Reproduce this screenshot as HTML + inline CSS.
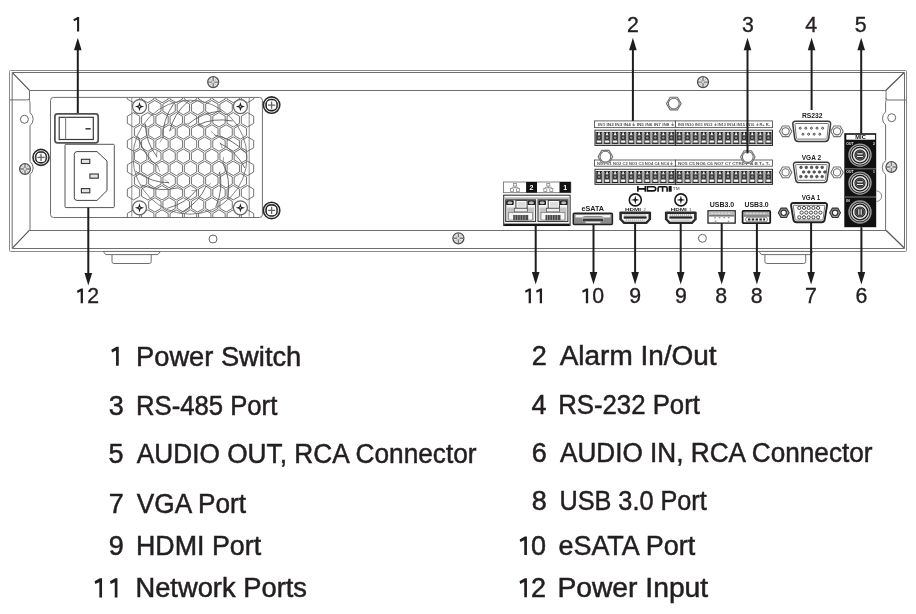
<!DOCTYPE html><html><head><meta charset="utf-8"><style>html,body{margin:0;padding:0;background:#fff;width:916px;height:614px;overflow:hidden}svg{display:block;will-change:transform}text{font-family:"Liberation Sans",sans-serif}</style></head><body>
<svg width="916" height="614" viewBox="0 0 916 614">
<g fill="none" stroke="#6e6e6e" stroke-width="1">
<rect x="9.5" y="70.5" width="897" height="181" rx="1" stroke="#8a8a8a"/>
<path d="M12.2,72.5 H904.5 V248.5 H12.2 Z"/>
<path d="M29.5,90.5 H886"/>
<path d="M29.5,230.5 H886"/>
<path d="M12.6,72.8 L29.5,90.3 M904,72.8 L886,90.3 M12.6,247.8 L29.5,230.2 M904,247.8 L886,230.2" stroke="#555" stroke-width="1.2"/>
<path d="M9.6,99.9 H27.5 Q29.5,99.9 29.5,98 M886,98 Q886,100 888,100 H906.6"/>
<path d="M29.5,90.3 V100.5 Q30,102.5 30,104 V112.6 A8.5,8.5 0 0 1 30,125.8 V161.4 A8.5,8.5 0 0 1 30,174.6 V230.2"/>
<path d="M886,90.3 V100.5 Q885.6,102.5 885.6,104 V111.8 A8.5,8.5 0 0 0 885.6,125 V160.6 A9,9 0 0 0 885.6,174.6 V230.2"/>
</g>
<path d="M876.5,191 A5.2,5.2 0 0 1 876.5,201.4" fill="none" stroke="#777" stroke-width="0.9"/>
<path d="M103.2,251.4 H160.4 L158,254.6 H105.6Z M112,254.6 V261.5 Q112,263.5 114,263.5 H149.2 Q151.2,263.5 151.2,261.5 V254.6" fill="#fff" stroke="#6e6e6e" stroke-width="1"/>
<path d="M758.9,251.4 H812.9 L810.5,254.6 H761.3Z M764.9,254.6 V261.5 Q764.9,263.5 766.9,263.5 H803.7 Q805.7,263.5 805.7,261.5 V254.6" fill="#fff" stroke="#6e6e6e" stroke-width="1"/>
<circle cx="24.4" cy="119.3" r="4" fill="#fff" stroke="#666" stroke-width="1"/>
<circle cx="891.7" cy="117.7" r="4" fill="#fff" stroke="#666" stroke-width="1"/>
<circle cx="25" cy="169" r="5.4" fill="#e6e6e6" stroke="#505050" stroke-width="1.3"/>
<path d="M20.1,169 H29.9 M25,164.1 V173.9" stroke="#7a7a7a" stroke-width="1.4"/>
<path d="M21.92,165.92 L28.08,172.08 M28.08,165.92 L21.92,172.08" stroke="#aaa" stroke-width="0.7"/>
<circle cx="25" cy="169" r="1.2" fill="#ddd"/>
<circle cx="891.4" cy="167" r="5.4" fill="#e6e6e6" stroke="#505050" stroke-width="1.3"/>
<path d="M886.5,167 H896.3 M891.4,162.1 V171.9" stroke="#7a7a7a" stroke-width="1.4"/>
<path d="M888.3199999999999,163.92 L894.48,170.08 M894.48,163.92 L888.3199999999999,170.08" stroke="#aaa" stroke-width="0.7"/>
<circle cx="891.4" cy="167" r="1.2" fill="#ddd"/>
<circle cx="213.2" cy="82.1" r="5.5" fill="#e6e6e6" stroke="#505050" stroke-width="1.3"/>
<path d="M208.2,82.1 H218.2 M213.2,77.1 V87.1" stroke="#7a7a7a" stroke-width="1.4"/>
<path d="M210.04999999999998,78.94999999999999 L216.35,85.25 M216.35,78.94999999999999 L210.04999999999998,85.25" stroke="#aaa" stroke-width="0.7"/>
<circle cx="213.2" cy="82.1" r="1.2" fill="#ddd"/>
<circle cx="703" cy="82.1" r="5.5" fill="#e6e6e6" stroke="#505050" stroke-width="1.3"/>
<path d="M698,82.1 H708 M703,77.1 V87.1" stroke="#7a7a7a" stroke-width="1.4"/>
<path d="M699.85,78.94999999999999 L706.15,85.25 M706.15,78.94999999999999 L699.85,85.25" stroke="#aaa" stroke-width="0.7"/>
<circle cx="703" cy="82.1" r="1.2" fill="#ddd"/>
<circle cx="458.4" cy="238.3" r="5.5" fill="#e6e6e6" stroke="#505050" stroke-width="1.3"/>
<path d="M453.4,238.3 H463.4 M458.4,233.3 V243.3" stroke="#7a7a7a" stroke-width="1.4"/>
<path d="M455.25,235.15 L461.54999999999995,241.45000000000002 M461.54999999999995,235.15 L455.25,241.45000000000002" stroke="#aaa" stroke-width="0.7"/>
<circle cx="458.4" cy="238.3" r="1.2" fill="#ddd"/>
<circle cx="213" cy="239" r="4" fill="#fff" stroke="#666" stroke-width="1"/>
<circle cx="702.4" cy="238.3" r="4" fill="#fff" stroke="#666" stroke-width="1"/>
<circle cx="41" cy="157.4" r="8.0" fill="#fff" stroke="#2a2a2a" stroke-width="1.6"/>
<circle cx="41" cy="157.4" r="6.000000000000001" fill="#fff" stroke="#777" stroke-width="0.9"/>
<rect x="35.800000000000004" y="152.2" width="10.400000000000002" height="10.400000000000002" rx="4.200000000000001" fill="#fff" stroke="#222" stroke-width="1.3"/>
<path d="M37.4,157.4 H44.6 M41,153.8 V161.0" stroke="#666" stroke-width="1.3"/>
<rect x="50.5" y="97.4" width="211.9" height="120.1" rx="3" fill="#fff" stroke="#6e6e6e" stroke-width="1"/>
<rect x="54.9" y="113.9" width="43.3" height="28.9" rx="2.6" fill="#fff" stroke="#505050" stroke-width="1.7"/>
<rect x="59.2" y="117.3" width="34.1" height="22.2" fill="#fff" stroke="#3a3a3a" stroke-width="1.2"/>
<line x1="65.6" y1="117.6" x2="65.6" y2="139.2" stroke="#888" stroke-width="1.2"/>
<line x1="85.5" y1="128.8" x2="90.7" y2="128.8" stroke="#333" stroke-width="1.5"/>
<rect x="65" y="144.3" width="49.3" height="63.3" rx="1" fill="#fff" stroke="#555" stroke-width="1"/>
<path d="M77,151.6 H97 L107,161 V190.5 L97,200.4 H77 Q74.3,200.4 74.3,197.5 V154.5 Q74.3,151.6 77,151.6Z" fill="#fff" stroke="#444" stroke-width="1.0"/>
<rect x="81.4" y="159.3" width="8.4" height="4.2" fill="#e4e4e4" stroke="#333" stroke-width="1.1"/>
<rect x="89.9" y="174" width="8.4" height="4.2" fill="#e4e4e4" stroke="#333" stroke-width="1.1"/>
<rect x="81.4" y="188.6" width="8.4" height="4.2" fill="#e4e4e4" stroke="#333" stroke-width="1.1"/>
<defs><clipPath id="fanclip"><rect x="120" y="97.9" width="140" height="119"/></clipPath></defs>
<g clip-path="url(#fanclip)">
<path d="M131.8,98 V216.5 M249.2,98 V216.5" stroke="#777" stroke-width="0.8" fill="none"/>
<path d="M133.50,102.70 L127.33,99.10 L127.33,91.90 L133.50,88.30 L139.68,91.90 L139.68,99.10ZM147.75,102.70 L141.57,99.10 L141.57,91.90 L147.75,88.30 L153.93,91.90 L153.93,99.10ZM162.00,102.70 L155.82,99.10 L155.82,91.90 L162.00,88.30 L168.18,91.90 L168.18,99.10ZM176.25,102.70 L170.07,99.10 L170.07,91.90 L176.25,88.30 L182.43,91.90 L182.43,99.10ZM190.50,102.70 L184.32,99.10 L184.32,91.90 L190.50,88.30 L196.68,91.90 L196.68,99.10ZM204.75,102.70 L198.57,99.10 L198.57,91.90 L204.75,88.30 L210.93,91.90 L210.93,99.10ZM219.00,102.70 L212.82,99.10 L212.82,91.90 L219.00,88.30 L225.18,91.90 L225.18,99.10ZM233.25,102.70 L227.07,99.10 L227.07,91.90 L233.25,88.30 L239.43,91.90 L239.43,99.10ZM247.50,102.70 L241.32,99.10 L241.32,91.90 L247.50,88.30 L253.68,91.90 L253.68,99.10ZM154.85,114.85 L148.67,111.25 L148.67,104.05 L154.85,100.45 L161.03,104.05 L161.03,111.25ZM169.10,114.85 L162.92,111.25 L162.92,104.05 L169.10,100.45 L175.28,104.05 L175.28,111.25ZM183.35,114.85 L177.17,111.25 L177.17,104.05 L183.35,100.45 L189.53,104.05 L189.53,111.25ZM197.60,114.85 L191.42,111.25 L191.42,104.05 L197.60,100.45 L203.78,104.05 L203.78,111.25ZM211.85,114.85 L205.67,111.25 L205.67,104.05 L211.85,100.45 L218.03,104.05 L218.03,111.25ZM226.10,114.85 L219.92,111.25 L219.92,104.05 L226.10,100.45 L232.28,104.05 L232.28,111.25ZM133.50,127.00 L127.33,123.40 L127.33,116.20 L133.50,112.60 L139.68,116.20 L139.68,123.40ZM147.75,127.00 L141.57,123.40 L141.57,116.20 L147.75,112.60 L153.93,116.20 L153.93,123.40ZM162.00,127.00 L155.82,123.40 L155.82,116.20 L162.00,112.60 L168.18,116.20 L168.18,123.40ZM176.25,127.00 L170.07,123.40 L170.07,116.20 L176.25,112.60 L182.43,116.20 L182.43,123.40ZM190.50,127.00 L184.32,123.40 L184.32,116.20 L190.50,112.60 L196.68,116.20 L196.68,123.40ZM204.75,127.00 L198.57,123.40 L198.57,116.20 L204.75,112.60 L210.93,116.20 L210.93,123.40ZM219.00,127.00 L212.82,123.40 L212.82,116.20 L219.00,112.60 L225.18,116.20 L225.18,123.40ZM233.25,127.00 L227.07,123.40 L227.07,116.20 L233.25,112.60 L239.43,116.20 L239.43,123.40ZM247.50,127.00 L241.32,123.40 L241.32,116.20 L247.50,112.60 L253.68,116.20 L253.68,123.40ZM140.60,139.15 L134.42,135.55 L134.42,128.35 L140.60,124.75 L146.78,128.35 L146.78,135.55ZM154.85,139.15 L148.67,135.55 L148.67,128.35 L154.85,124.75 L161.03,128.35 L161.03,135.55ZM169.10,139.15 L162.92,135.55 L162.92,128.35 L169.10,124.75 L175.28,128.35 L175.28,135.55ZM183.35,139.15 L177.17,135.55 L177.17,128.35 L183.35,124.75 L189.53,128.35 L189.53,135.55ZM197.60,139.15 L191.42,135.55 L191.42,128.35 L197.60,124.75 L203.78,128.35 L203.78,135.55ZM211.85,139.15 L205.67,135.55 L205.67,128.35 L211.85,124.75 L218.03,128.35 L218.03,135.55ZM226.10,139.15 L219.92,135.55 L219.92,128.35 L226.10,124.75 L232.28,128.35 L232.28,135.55ZM240.35,139.15 L234.17,135.55 L234.17,128.35 L240.35,124.75 L246.53,128.35 L246.53,135.55ZM133.50,151.30 L127.33,147.70 L127.33,140.50 L133.50,136.90 L139.68,140.50 L139.68,147.70ZM147.75,151.30 L141.57,147.70 L141.57,140.50 L147.75,136.90 L153.93,140.50 L153.93,147.70ZM162.00,151.30 L155.82,147.70 L155.82,140.50 L162.00,136.90 L168.18,140.50 L168.18,147.70ZM176.25,151.30 L170.07,147.70 L170.07,140.50 L176.25,136.90 L182.43,140.50 L182.43,147.70ZM190.50,151.30 L184.32,147.70 L184.32,140.50 L190.50,136.90 L196.68,140.50 L196.68,147.70ZM204.75,151.30 L198.57,147.70 L198.57,140.50 L204.75,136.90 L210.93,140.50 L210.93,147.70ZM219.00,151.30 L212.82,147.70 L212.82,140.50 L219.00,136.90 L225.18,140.50 L225.18,147.70ZM233.25,151.30 L227.07,147.70 L227.07,140.50 L233.25,136.90 L239.43,140.50 L239.43,147.70ZM247.50,151.30 L241.32,147.70 L241.32,140.50 L247.50,136.90 L253.68,140.50 L253.68,147.70ZM140.60,163.45 L134.42,159.85 L134.42,152.65 L140.60,149.05 L146.78,152.65 L146.78,159.85ZM154.85,163.45 L148.67,159.85 L148.67,152.65 L154.85,149.05 L161.03,152.65 L161.03,159.85ZM169.10,163.45 L162.92,159.85 L162.92,152.65 L169.10,149.05 L175.28,152.65 L175.28,159.85ZM183.35,163.45 L177.17,159.85 L177.17,152.65 L183.35,149.05 L189.53,152.65 L189.53,159.85ZM197.60,163.45 L191.42,159.85 L191.42,152.65 L197.60,149.05 L203.78,152.65 L203.78,159.85ZM211.85,163.45 L205.67,159.85 L205.67,152.65 L211.85,149.05 L218.03,152.65 L218.03,159.85ZM226.10,163.45 L219.92,159.85 L219.92,152.65 L226.10,149.05 L232.28,152.65 L232.28,159.85ZM240.35,163.45 L234.17,159.85 L234.17,152.65 L240.35,149.05 L246.53,152.65 L246.53,159.85ZM133.50,175.60 L127.33,172.00 L127.33,164.80 L133.50,161.20 L139.68,164.80 L139.68,172.00ZM147.75,175.60 L141.57,172.00 L141.57,164.80 L147.75,161.20 L153.93,164.80 L153.93,172.00ZM162.00,175.60 L155.82,172.00 L155.82,164.80 L162.00,161.20 L168.18,164.80 L168.18,172.00ZM176.25,175.60 L170.07,172.00 L170.07,164.80 L176.25,161.20 L182.43,164.80 L182.43,172.00ZM190.50,175.60 L184.32,172.00 L184.32,164.80 L190.50,161.20 L196.68,164.80 L196.68,172.00ZM204.75,175.60 L198.57,172.00 L198.57,164.80 L204.75,161.20 L210.93,164.80 L210.93,172.00ZM219.00,175.60 L212.82,172.00 L212.82,164.80 L219.00,161.20 L225.18,164.80 L225.18,172.00ZM233.25,175.60 L227.07,172.00 L227.07,164.80 L233.25,161.20 L239.43,164.80 L239.43,172.00ZM247.50,175.60 L241.32,172.00 L241.32,164.80 L247.50,161.20 L253.68,164.80 L253.68,172.00ZM140.60,187.75 L134.42,184.15 L134.42,176.95 L140.60,173.35 L146.78,176.95 L146.78,184.15ZM154.85,187.75 L148.67,184.15 L148.67,176.95 L154.85,173.35 L161.03,176.95 L161.03,184.15ZM169.10,187.75 L162.92,184.15 L162.92,176.95 L169.10,173.35 L175.28,176.95 L175.28,184.15ZM183.35,187.75 L177.17,184.15 L177.17,176.95 L183.35,173.35 L189.53,176.95 L189.53,184.15ZM197.60,187.75 L191.42,184.15 L191.42,176.95 L197.60,173.35 L203.78,176.95 L203.78,184.15ZM211.85,187.75 L205.67,184.15 L205.67,176.95 L211.85,173.35 L218.03,176.95 L218.03,184.15ZM226.10,187.75 L219.92,184.15 L219.92,176.95 L226.10,173.35 L232.28,176.95 L232.28,184.15ZM240.35,187.75 L234.17,184.15 L234.17,176.95 L240.35,173.35 L246.53,176.95 L246.53,184.15ZM133.50,199.90 L127.33,196.30 L127.33,189.10 L133.50,185.50 L139.68,189.10 L139.68,196.30ZM147.75,199.90 L141.57,196.30 L141.57,189.10 L147.75,185.50 L153.93,189.10 L153.93,196.30ZM162.00,199.90 L155.82,196.30 L155.82,189.10 L162.00,185.50 L168.18,189.10 L168.18,196.30ZM176.25,199.90 L170.07,196.30 L170.07,189.10 L176.25,185.50 L182.43,189.10 L182.43,196.30ZM190.50,199.90 L184.32,196.30 L184.32,189.10 L190.50,185.50 L196.68,189.10 L196.68,196.30ZM204.75,199.90 L198.57,196.30 L198.57,189.10 L204.75,185.50 L210.93,189.10 L210.93,196.30ZM219.00,199.90 L212.82,196.30 L212.82,189.10 L219.00,185.50 L225.18,189.10 L225.18,196.30ZM233.25,199.90 L227.07,196.30 L227.07,189.10 L233.25,185.50 L239.43,189.10 L239.43,196.30ZM247.50,199.90 L241.32,196.30 L241.32,189.10 L247.50,185.50 L253.68,189.10 L253.68,196.30ZM154.85,212.05 L148.67,208.45 L148.67,201.25 L154.85,197.65 L161.03,201.25 L161.03,208.45ZM169.10,212.05 L162.92,208.45 L162.92,201.25 L169.10,197.65 L175.28,201.25 L175.28,208.45ZM183.35,212.05 L177.17,208.45 L177.17,201.25 L183.35,197.65 L189.53,201.25 L189.53,208.45ZM197.60,212.05 L191.42,208.45 L191.42,201.25 L197.60,197.65 L203.78,201.25 L203.78,208.45ZM211.85,212.05 L205.67,208.45 L205.67,201.25 L211.85,197.65 L218.03,201.25 L218.03,208.45ZM226.10,212.05 L219.92,208.45 L219.92,201.25 L226.10,197.65 L232.28,201.25 L232.28,208.45ZM133.50,224.20 L127.33,220.60 L127.33,213.40 L133.50,209.80 L139.68,213.40 L139.68,220.60ZM147.75,224.20 L141.57,220.60 L141.57,213.40 L147.75,209.80 L153.93,213.40 L153.93,220.60ZM162.00,224.20 L155.82,220.60 L155.82,213.40 L162.00,209.80 L168.18,213.40 L168.18,220.60ZM176.25,224.20 L170.07,220.60 L170.07,213.40 L176.25,209.80 L182.43,213.40 L182.43,220.60ZM190.50,224.20 L184.32,220.60 L184.32,213.40 L190.50,209.80 L196.68,213.40 L196.68,220.60ZM204.75,224.20 L198.57,220.60 L198.57,213.40 L204.75,209.80 L210.93,213.40 L210.93,220.60ZM219.00,224.20 L212.82,220.60 L212.82,213.40 L219.00,209.80 L225.18,213.40 L225.18,220.60ZM233.25,224.20 L227.07,220.60 L227.07,213.40 L233.25,209.80 L239.43,213.40 L239.43,220.60ZM247.50,224.20 L241.32,220.60 L241.32,213.40 L247.50,209.80 L253.68,213.40 L253.68,220.60Z" fill="none" stroke="#5a5a5a" stroke-width="0.85"/>
<circle cx="190" cy="157.2" r="57" fill="none" stroke="#666" stroke-width="0.8"/>
<circle cx="190" cy="157.2" r="33.5" fill="none" stroke="#777" stroke-width="0.7" stroke-dasharray="6,9"/>
<path d="M188.0,124.3 Q201.2,112.6 221.7,111.0 M197.8,125.1 Q213.1,117.4 232.7,121.0 M214.5,135.1 Q231.9,138.1 245.9,153.2 M219.9,143.3 Q235.5,150.5 244.9,168.0 M222.6,162.6 Q231.0,178.1 227.9,198.4 M219.5,171.9 Q223.6,188.6 215.8,206.9 M206.1,186.0 Q199.3,202.3 181.4,212.5 M196.9,189.5 Q186.4,203.1 167.2,208.4 M177.5,187.8 Q160.5,192.5 141.4,185.0 M169.1,182.7 Q151.9,183.0 135.8,171.3 M158.3,166.5 Q144.0,156.2 137.9,136.5 M157.0,156.7 Q146.1,143.5 145.2,123.6 M163.0,138.2 Q162.1,120.6 173.7,103.6 M169.8,131.1 Q173.3,114.3 188.3,101.2" fill="none" stroke="#555" stroke-width="0.85"/>
</g>
<circle cx="139.5" cy="106.6" r="7.0" fill="#fff" stroke="#6a6a6a" stroke-width="1.3"/>
<path d="M139.5,102.0 L140.6,105.5 L144.1,106.6 L140.6,107.69999999999999 L139.5,111.19999999999999 L138.4,107.69999999999999 L134.9,106.6 L138.4,105.5Z" fill="#1e1e1e"/>
<circle cx="139.5" cy="106.6" r="0.8" fill="#bbb"/>
<circle cx="240.4" cy="106.6" r="7.0" fill="#fff" stroke="#6a6a6a" stroke-width="1.3"/>
<path d="M240.4,102.0 L241.5,105.5 L245.0,106.6 L241.5,107.69999999999999 L240.4,111.19999999999999 L239.3,107.69999999999999 L235.8,106.6 L239.3,105.5Z" fill="#1e1e1e"/>
<circle cx="240.4" cy="106.6" r="0.8" fill="#bbb"/>
<circle cx="139.5" cy="207.8" r="7.0" fill="#fff" stroke="#6a6a6a" stroke-width="1.3"/>
<path d="M139.5,203.20000000000002 L140.6,206.70000000000002 L144.1,207.8 L140.6,208.9 L139.5,212.4 L138.4,208.9 L134.9,207.8 L138.4,206.70000000000002Z" fill="#1e1e1e"/>
<circle cx="139.5" cy="207.8" r="0.8" fill="#bbb"/>
<circle cx="240.4" cy="207.8" r="7.0" fill="#fff" stroke="#6a6a6a" stroke-width="1.3"/>
<path d="M240.4,203.20000000000002 L241.5,206.70000000000002 L245.0,207.8 L241.5,208.9 L240.4,212.4 L239.3,208.9 L235.8,207.8 L239.3,206.70000000000002Z" fill="#1e1e1e"/>
<circle cx="240.4" cy="207.8" r="0.8" fill="#bbb"/>
<circle cx="271.6" cy="105.1" r="8.2" fill="#fff" stroke="#2a2a2a" stroke-width="1.6"/>
<circle cx="271.6" cy="105.1" r="6.2" fill="#fff" stroke="#777" stroke-width="0.9"/>
<rect x="266.20000000000005" y="99.69999999999999" width="10.8" height="10.8" rx="4.4" fill="#fff" stroke="#222" stroke-width="1.3"/>
<path d="M268.0,105.1 H275.20000000000005 M271.6,101.5 V108.69999999999999" stroke="#666" stroke-width="1.3"/>
<circle cx="271.6" cy="210.4" r="8.2" fill="#fff" stroke="#2a2a2a" stroke-width="1.6"/>
<circle cx="271.6" cy="210.4" r="6.2" fill="#fff" stroke="#777" stroke-width="0.9"/>
<rect x="266.20000000000005" y="205.0" width="10.8" height="10.8" rx="4.4" fill="#fff" stroke="#222" stroke-width="1.3"/>
<path d="M268.0,210.4 H275.20000000000005 M271.6,206.8 V214.0" stroke="#666" stroke-width="1.3"/>
<rect x="594.5" y="120.9" width="80.89999999999998" height="6.699999999999989" fill="#fff" stroke="#555" stroke-width="0.9"/>
<rect x="675.4" y="120.9" width="97.10000000000002" height="6.699999999999989" fill="#fff" stroke="#555" stroke-width="0.9"/>
<rect x="595.0" y="130.2" width="80.39999999999999" height="15.200000000000017" fill="#ababab" stroke="#262626" stroke-width="1"/>
<rect x="595.5" y="130.7" width="79.39999999999999" height="1.3" fill="#ececec"/>
<rect x="595.5" y="143.8" width="79.39999999999999" height="1.1" fill="#c8c8c8"/>
<path d="M595.92,132.0 H602.12 L601.22,134.0 H596.8199999999999Z" fill="#222"/>
<rect x="598.22" y="132.5" width="1.6" height="2.8" fill="#f0f0f0"/>
<rect x="596.12" y="134.0" width="5.8" height="8.8" fill="#484848"/>
<rect x="598.02" y="134.0" width="2" height="1.4" fill="#eee"/>
<circle cx="599.02" cy="137.79999999999998" r="1.8" fill="#8a8a8a" stroke="#222" stroke-width="0.8"/>
<rect x="596.8199999999999" y="140.5" width="4.4" height="2.3" rx="1" fill="#f6f6f6"/>
<rect x="595.8199999999999" y="142.79999999999998" width="6.4" height="1.0" fill="#151515"/>
<path d="M603.9599999999999,132.0 H610.16 L609.26,134.0 H604.8599999999999Z" fill="#222"/>
<rect x="606.26" y="132.5" width="1.6" height="2.8" fill="#f0f0f0"/>
<rect x="604.16" y="134.0" width="5.8" height="8.8" fill="#484848"/>
<rect x="606.06" y="134.0" width="2" height="1.4" fill="#eee"/>
<circle cx="607.06" cy="137.79999999999998" r="1.8" fill="#8a8a8a" stroke="#222" stroke-width="0.8"/>
<rect x="604.8599999999999" y="140.5" width="4.4" height="2.3" rx="1" fill="#f6f6f6"/>
<rect x="603.8599999999999" y="142.79999999999998" width="6.4" height="1.0" fill="#151515"/>
<path d="M612.0,132.0 H618.2 L617.3000000000001,134.0 H612.9Z" fill="#222"/>
<rect x="614.3000000000001" y="132.5" width="1.6" height="2.8" fill="#f0f0f0"/>
<rect x="612.2" y="134.0" width="5.8" height="8.8" fill="#484848"/>
<rect x="614.1" y="134.0" width="2" height="1.4" fill="#eee"/>
<circle cx="615.1" cy="137.79999999999998" r="1.8" fill="#8a8a8a" stroke="#222" stroke-width="0.8"/>
<rect x="612.9" y="140.5" width="4.4" height="2.3" rx="1" fill="#f6f6f6"/>
<rect x="611.9" y="142.79999999999998" width="6.4" height="1.0" fill="#151515"/>
<path d="M620.04,132.0 H626.24 L625.34,134.0 H620.9399999999999Z" fill="#222"/>
<rect x="622.34" y="132.5" width="1.6" height="2.8" fill="#f0f0f0"/>
<rect x="620.24" y="134.0" width="5.8" height="8.8" fill="#484848"/>
<rect x="622.14" y="134.0" width="2" height="1.4" fill="#eee"/>
<circle cx="623.14" cy="137.79999999999998" r="1.8" fill="#8a8a8a" stroke="#222" stroke-width="0.8"/>
<rect x="620.9399999999999" y="140.5" width="4.4" height="2.3" rx="1" fill="#f6f6f6"/>
<rect x="619.9399999999999" y="142.79999999999998" width="6.4" height="1.0" fill="#151515"/>
<path d="M628.0799999999999,132.0 H634.28 L633.38,134.0 H628.9799999999999Z" fill="#222"/>
<rect x="630.38" y="132.5" width="1.6" height="2.8" fill="#f0f0f0"/>
<rect x="628.28" y="134.0" width="5.8" height="8.8" fill="#484848"/>
<rect x="630.18" y="134.0" width="2" height="1.4" fill="#eee"/>
<circle cx="631.18" cy="137.79999999999998" r="1.8" fill="#8a8a8a" stroke="#222" stroke-width="0.8"/>
<rect x="628.9799999999999" y="140.5" width="4.4" height="2.3" rx="1" fill="#f6f6f6"/>
<rect x="627.9799999999999" y="142.79999999999998" width="6.4" height="1.0" fill="#151515"/>
<path d="M636.12,132.0 H642.32 L641.4200000000001,134.0 H637.02Z" fill="#222"/>
<rect x="638.4200000000001" y="132.5" width="1.6" height="2.8" fill="#f0f0f0"/>
<rect x="636.32" y="134.0" width="5.8" height="8.8" fill="#484848"/>
<rect x="638.22" y="134.0" width="2" height="1.4" fill="#eee"/>
<circle cx="639.22" cy="137.79999999999998" r="1.8" fill="#8a8a8a" stroke="#222" stroke-width="0.8"/>
<rect x="637.02" y="140.5" width="4.4" height="2.3" rx="1" fill="#f6f6f6"/>
<rect x="636.02" y="142.79999999999998" width="6.4" height="1.0" fill="#151515"/>
<path d="M644.16,132.0 H650.36 L649.46,134.0 H645.06Z" fill="#222"/>
<rect x="646.46" y="132.5" width="1.6" height="2.8" fill="#f0f0f0"/>
<rect x="644.36" y="134.0" width="5.8" height="8.8" fill="#484848"/>
<rect x="646.26" y="134.0" width="2" height="1.4" fill="#eee"/>
<circle cx="647.26" cy="137.79999999999998" r="1.8" fill="#8a8a8a" stroke="#222" stroke-width="0.8"/>
<rect x="645.06" y="140.5" width="4.4" height="2.3" rx="1" fill="#f6f6f6"/>
<rect x="644.06" y="142.79999999999998" width="6.4" height="1.0" fill="#151515"/>
<path d="M652.1999999999999,132.0 H658.4 L657.5,134.0 H653.0999999999999Z" fill="#222"/>
<rect x="654.5" y="132.5" width="1.6" height="2.8" fill="#f0f0f0"/>
<rect x="652.4" y="134.0" width="5.8" height="8.8" fill="#484848"/>
<rect x="654.3" y="134.0" width="2" height="1.4" fill="#eee"/>
<circle cx="655.3" cy="137.79999999999998" r="1.8" fill="#8a8a8a" stroke="#222" stroke-width="0.8"/>
<rect x="653.0999999999999" y="140.5" width="4.4" height="2.3" rx="1" fill="#f6f6f6"/>
<rect x="652.0999999999999" y="142.79999999999998" width="6.4" height="1.0" fill="#151515"/>
<path d="M660.2399999999999,132.0 H666.4399999999999 L665.54,134.0 H661.1399999999999Z" fill="#222"/>
<rect x="662.54" y="132.5" width="1.6" height="2.8" fill="#f0f0f0"/>
<rect x="660.4399999999999" y="134.0" width="5.8" height="8.8" fill="#484848"/>
<rect x="662.3399999999999" y="134.0" width="2" height="1.4" fill="#eee"/>
<circle cx="663.3399999999999" cy="137.79999999999998" r="1.8" fill="#8a8a8a" stroke="#222" stroke-width="0.8"/>
<rect x="661.1399999999999" y="140.5" width="4.4" height="2.3" rx="1" fill="#f6f6f6"/>
<rect x="660.1399999999999" y="142.79999999999998" width="6.4" height="1.0" fill="#151515"/>
<path d="M668.28,132.0 H674.48 L673.58,134.0 H669.18Z" fill="#222"/>
<rect x="670.58" y="132.5" width="1.6" height="2.8" fill="#f0f0f0"/>
<rect x="668.48" y="134.0" width="5.8" height="8.8" fill="#484848"/>
<rect x="670.38" y="134.0" width="2" height="1.4" fill="#eee"/>
<circle cx="671.38" cy="137.79999999999998" r="1.8" fill="#8a8a8a" stroke="#222" stroke-width="0.8"/>
<rect x="669.18" y="140.5" width="4.4" height="2.3" rx="1" fill="#f6f6f6"/>
<rect x="668.18" y="142.79999999999998" width="6.4" height="1.0" fill="#151515"/>
<rect x="675.4" y="130.2" width="97.08" height="15.200000000000017" fill="#ababab" stroke="#262626" stroke-width="1"/>
<rect x="675.9" y="130.7" width="96.08" height="1.3" fill="#ececec"/>
<rect x="675.9" y="143.8" width="96.08" height="1.1" fill="#c8c8c8"/>
<path d="M676.3449999999999,132.0 H682.545 L681.645,134.0 H677.2449999999999Z" fill="#222"/>
<rect x="678.645" y="132.5" width="1.6" height="2.8" fill="#f0f0f0"/>
<rect x="676.545" y="134.0" width="5.8" height="8.8" fill="#484848"/>
<rect x="678.4449999999999" y="134.0" width="2" height="1.4" fill="#eee"/>
<circle cx="679.4449999999999" cy="137.79999999999998" r="1.8" fill="#8a8a8a" stroke="#222" stroke-width="0.8"/>
<rect x="677.2449999999999" y="140.5" width="4.4" height="2.3" rx="1" fill="#f6f6f6"/>
<rect x="676.2449999999999" y="142.79999999999998" width="6.4" height="1.0" fill="#151515"/>
<path d="M684.435,132.0 H690.635 L689.735,134.0 H685.3349999999999Z" fill="#222"/>
<rect x="686.735" y="132.5" width="1.6" height="2.8" fill="#f0f0f0"/>
<rect x="684.635" y="134.0" width="5.8" height="8.8" fill="#484848"/>
<rect x="686.535" y="134.0" width="2" height="1.4" fill="#eee"/>
<circle cx="687.535" cy="137.79999999999998" r="1.8" fill="#8a8a8a" stroke="#222" stroke-width="0.8"/>
<rect x="685.3349999999999" y="140.5" width="4.4" height="2.3" rx="1" fill="#f6f6f6"/>
<rect x="684.3349999999999" y="142.79999999999998" width="6.4" height="1.0" fill="#151515"/>
<path d="M692.5249999999999,132.0 H698.7249999999999 L697.8249999999999,134.0 H693.4249999999998Z" fill="#222"/>
<rect x="694.8249999999999" y="132.5" width="1.6" height="2.8" fill="#f0f0f0"/>
<rect x="692.7249999999999" y="134.0" width="5.8" height="8.8" fill="#484848"/>
<rect x="694.6249999999999" y="134.0" width="2" height="1.4" fill="#eee"/>
<circle cx="695.6249999999999" cy="137.79999999999998" r="1.8" fill="#8a8a8a" stroke="#222" stroke-width="0.8"/>
<rect x="693.4249999999998" y="140.5" width="4.4" height="2.3" rx="1" fill="#f6f6f6"/>
<rect x="692.4249999999998" y="142.79999999999998" width="6.4" height="1.0" fill="#151515"/>
<path d="M700.6149999999999,132.0 H706.8149999999999 L705.915,134.0 H701.5149999999999Z" fill="#222"/>
<rect x="702.915" y="132.5" width="1.6" height="2.8" fill="#f0f0f0"/>
<rect x="700.8149999999999" y="134.0" width="5.8" height="8.8" fill="#484848"/>
<rect x="702.7149999999999" y="134.0" width="2" height="1.4" fill="#eee"/>
<circle cx="703.7149999999999" cy="137.79999999999998" r="1.8" fill="#8a8a8a" stroke="#222" stroke-width="0.8"/>
<rect x="701.5149999999999" y="140.5" width="4.4" height="2.3" rx="1" fill="#f6f6f6"/>
<rect x="700.5149999999999" y="142.79999999999998" width="6.4" height="1.0" fill="#151515"/>
<path d="M708.7049999999999,132.0 H714.905 L714.005,134.0 H709.6049999999999Z" fill="#222"/>
<rect x="711.005" y="132.5" width="1.6" height="2.8" fill="#f0f0f0"/>
<rect x="708.905" y="134.0" width="5.8" height="8.8" fill="#484848"/>
<rect x="710.805" y="134.0" width="2" height="1.4" fill="#eee"/>
<circle cx="711.805" cy="137.79999999999998" r="1.8" fill="#8a8a8a" stroke="#222" stroke-width="0.8"/>
<rect x="709.6049999999999" y="140.5" width="4.4" height="2.3" rx="1" fill="#f6f6f6"/>
<rect x="708.6049999999999" y="142.79999999999998" width="6.4" height="1.0" fill="#151515"/>
<path d="M716.795,132.0 H722.995 L722.095,134.0 H717.6949999999999Z" fill="#222"/>
<rect x="719.095" y="132.5" width="1.6" height="2.8" fill="#f0f0f0"/>
<rect x="716.995" y="134.0" width="5.8" height="8.8" fill="#484848"/>
<rect x="718.895" y="134.0" width="2" height="1.4" fill="#eee"/>
<circle cx="719.895" cy="137.79999999999998" r="1.8" fill="#8a8a8a" stroke="#222" stroke-width="0.8"/>
<rect x="717.6949999999999" y="140.5" width="4.4" height="2.3" rx="1" fill="#f6f6f6"/>
<rect x="716.6949999999999" y="142.79999999999998" width="6.4" height="1.0" fill="#151515"/>
<path d="M724.8849999999999,132.0 H731.0849999999999 L730.185,134.0 H725.7849999999999Z" fill="#222"/>
<rect x="727.185" y="132.5" width="1.6" height="2.8" fill="#f0f0f0"/>
<rect x="725.0849999999999" y="134.0" width="5.8" height="8.8" fill="#484848"/>
<rect x="726.9849999999999" y="134.0" width="2" height="1.4" fill="#eee"/>
<circle cx="727.9849999999999" cy="137.79999999999998" r="1.8" fill="#8a8a8a" stroke="#222" stroke-width="0.8"/>
<rect x="725.7849999999999" y="140.5" width="4.4" height="2.3" rx="1" fill="#f6f6f6"/>
<rect x="724.7849999999999" y="142.79999999999998" width="6.4" height="1.0" fill="#151515"/>
<path d="M732.9749999999999,132.0 H739.175 L738.275,134.0 H733.8749999999999Z" fill="#222"/>
<rect x="735.275" y="132.5" width="1.6" height="2.8" fill="#f0f0f0"/>
<rect x="733.175" y="134.0" width="5.8" height="8.8" fill="#484848"/>
<rect x="735.0749999999999" y="134.0" width="2" height="1.4" fill="#eee"/>
<circle cx="736.0749999999999" cy="137.79999999999998" r="1.8" fill="#8a8a8a" stroke="#222" stroke-width="0.8"/>
<rect x="733.8749999999999" y="140.5" width="4.4" height="2.3" rx="1" fill="#f6f6f6"/>
<rect x="732.8749999999999" y="142.79999999999998" width="6.4" height="1.0" fill="#151515"/>
<path d="M741.0649999999999,132.0 H747.265 L746.365,134.0 H741.9649999999999Z" fill="#222"/>
<rect x="743.365" y="132.5" width="1.6" height="2.8" fill="#f0f0f0"/>
<rect x="741.265" y="134.0" width="5.8" height="8.8" fill="#484848"/>
<rect x="743.165" y="134.0" width="2" height="1.4" fill="#eee"/>
<circle cx="744.165" cy="137.79999999999998" r="1.8" fill="#8a8a8a" stroke="#222" stroke-width="0.8"/>
<rect x="741.9649999999999" y="140.5" width="4.4" height="2.3" rx="1" fill="#f6f6f6"/>
<rect x="740.9649999999999" y="142.79999999999998" width="6.4" height="1.0" fill="#151515"/>
<path d="M749.155,132.0 H755.355 L754.455,134.0 H750.055Z" fill="#222"/>
<rect x="751.455" y="132.5" width="1.6" height="2.8" fill="#f0f0f0"/>
<rect x="749.355" y="134.0" width="5.8" height="8.8" fill="#484848"/>
<rect x="751.255" y="134.0" width="2" height="1.4" fill="#eee"/>
<circle cx="752.255" cy="137.79999999999998" r="1.8" fill="#8a8a8a" stroke="#222" stroke-width="0.8"/>
<rect x="750.055" y="140.5" width="4.4" height="2.3" rx="1" fill="#f6f6f6"/>
<rect x="749.055" y="142.79999999999998" width="6.4" height="1.0" fill="#151515"/>
<path d="M757.2449999999999,132.0 H763.4449999999999 L762.545,134.0 H758.1449999999999Z" fill="#222"/>
<rect x="759.545" y="132.5" width="1.6" height="2.8" fill="#f0f0f0"/>
<rect x="757.4449999999999" y="134.0" width="5.8" height="8.8" fill="#484848"/>
<rect x="759.3449999999999" y="134.0" width="2" height="1.4" fill="#eee"/>
<circle cx="760.3449999999999" cy="137.79999999999998" r="1.8" fill="#8a8a8a" stroke="#222" stroke-width="0.8"/>
<rect x="758.1449999999999" y="140.5" width="4.4" height="2.3" rx="1" fill="#f6f6f6"/>
<rect x="757.1449999999999" y="142.79999999999998" width="6.4" height="1.0" fill="#151515"/>
<path d="M765.3349999999999,132.0 H771.535 L770.635,134.0 H766.2349999999999Z" fill="#222"/>
<rect x="767.635" y="132.5" width="1.6" height="2.8" fill="#f0f0f0"/>
<rect x="765.535" y="134.0" width="5.8" height="8.8" fill="#484848"/>
<rect x="767.435" y="134.0" width="2" height="1.4" fill="#eee"/>
<circle cx="768.435" cy="137.79999999999998" r="1.8" fill="#8a8a8a" stroke="#222" stroke-width="0.8"/>
<rect x="766.2349999999999" y="140.5" width="4.4" height="2.3" rx="1" fill="#f6f6f6"/>
<rect x="765.2349999999999" y="142.79999999999998" width="6.4" height="1.0" fill="#151515"/>
<rect x="594.5" y="160" width="80.89999999999998" height="6.199999999999989" fill="#fff" stroke="#555" stroke-width="0.9"/>
<rect x="675.4" y="160" width="97.10000000000002" height="6.199999999999989" fill="#fff" stroke="#555" stroke-width="0.9"/>
<rect x="595.0" y="169.3" width="80.39999999999999" height="15.0" fill="#ababab" stroke="#262626" stroke-width="1"/>
<rect x="595.5" y="169.8" width="79.39999999999999" height="1.3" fill="#ececec"/>
<rect x="595.5" y="182.70000000000002" width="79.39999999999999" height="1.1" fill="#c8c8c8"/>
<path d="M595.92,171.10000000000002 H602.12 L601.22,173.10000000000002 H596.8199999999999Z" fill="#222"/>
<rect x="598.22" y="171.60000000000002" width="1.6" height="2.8" fill="#f0f0f0"/>
<rect x="596.12" y="173.10000000000002" width="5.8" height="8.8" fill="#484848"/>
<rect x="598.02" y="173.10000000000002" width="2" height="1.4" fill="#eee"/>
<circle cx="599.02" cy="176.9" r="1.8" fill="#8a8a8a" stroke="#222" stroke-width="0.8"/>
<rect x="596.8199999999999" y="179.60000000000002" width="4.4" height="2.3" rx="1" fill="#f6f6f6"/>
<rect x="595.8199999999999" y="181.9" width="6.4" height="1.0" fill="#151515"/>
<path d="M603.9599999999999,171.10000000000002 H610.16 L609.26,173.10000000000002 H604.8599999999999Z" fill="#222"/>
<rect x="606.26" y="171.60000000000002" width="1.6" height="2.8" fill="#f0f0f0"/>
<rect x="604.16" y="173.10000000000002" width="5.8" height="8.8" fill="#484848"/>
<rect x="606.06" y="173.10000000000002" width="2" height="1.4" fill="#eee"/>
<circle cx="607.06" cy="176.9" r="1.8" fill="#8a8a8a" stroke="#222" stroke-width="0.8"/>
<rect x="604.8599999999999" y="179.60000000000002" width="4.4" height="2.3" rx="1" fill="#f6f6f6"/>
<rect x="603.8599999999999" y="181.9" width="6.4" height="1.0" fill="#151515"/>
<path d="M612.0,171.10000000000002 H618.2 L617.3000000000001,173.10000000000002 H612.9Z" fill="#222"/>
<rect x="614.3000000000001" y="171.60000000000002" width="1.6" height="2.8" fill="#f0f0f0"/>
<rect x="612.2" y="173.10000000000002" width="5.8" height="8.8" fill="#484848"/>
<rect x="614.1" y="173.10000000000002" width="2" height="1.4" fill="#eee"/>
<circle cx="615.1" cy="176.9" r="1.8" fill="#8a8a8a" stroke="#222" stroke-width="0.8"/>
<rect x="612.9" y="179.60000000000002" width="4.4" height="2.3" rx="1" fill="#f6f6f6"/>
<rect x="611.9" y="181.9" width="6.4" height="1.0" fill="#151515"/>
<path d="M620.04,171.10000000000002 H626.24 L625.34,173.10000000000002 H620.9399999999999Z" fill="#222"/>
<rect x="622.34" y="171.60000000000002" width="1.6" height="2.8" fill="#f0f0f0"/>
<rect x="620.24" y="173.10000000000002" width="5.8" height="8.8" fill="#484848"/>
<rect x="622.14" y="173.10000000000002" width="2" height="1.4" fill="#eee"/>
<circle cx="623.14" cy="176.9" r="1.8" fill="#8a8a8a" stroke="#222" stroke-width="0.8"/>
<rect x="620.9399999999999" y="179.60000000000002" width="4.4" height="2.3" rx="1" fill="#f6f6f6"/>
<rect x="619.9399999999999" y="181.9" width="6.4" height="1.0" fill="#151515"/>
<path d="M628.0799999999999,171.10000000000002 H634.28 L633.38,173.10000000000002 H628.9799999999999Z" fill="#222"/>
<rect x="630.38" y="171.60000000000002" width="1.6" height="2.8" fill="#f0f0f0"/>
<rect x="628.28" y="173.10000000000002" width="5.8" height="8.8" fill="#484848"/>
<rect x="630.18" y="173.10000000000002" width="2" height="1.4" fill="#eee"/>
<circle cx="631.18" cy="176.9" r="1.8" fill="#8a8a8a" stroke="#222" stroke-width="0.8"/>
<rect x="628.9799999999999" y="179.60000000000002" width="4.4" height="2.3" rx="1" fill="#f6f6f6"/>
<rect x="627.9799999999999" y="181.9" width="6.4" height="1.0" fill="#151515"/>
<path d="M636.12,171.10000000000002 H642.32 L641.4200000000001,173.10000000000002 H637.02Z" fill="#222"/>
<rect x="638.4200000000001" y="171.60000000000002" width="1.6" height="2.8" fill="#f0f0f0"/>
<rect x="636.32" y="173.10000000000002" width="5.8" height="8.8" fill="#484848"/>
<rect x="638.22" y="173.10000000000002" width="2" height="1.4" fill="#eee"/>
<circle cx="639.22" cy="176.9" r="1.8" fill="#8a8a8a" stroke="#222" stroke-width="0.8"/>
<rect x="637.02" y="179.60000000000002" width="4.4" height="2.3" rx="1" fill="#f6f6f6"/>
<rect x="636.02" y="181.9" width="6.4" height="1.0" fill="#151515"/>
<path d="M644.16,171.10000000000002 H650.36 L649.46,173.10000000000002 H645.06Z" fill="#222"/>
<rect x="646.46" y="171.60000000000002" width="1.6" height="2.8" fill="#f0f0f0"/>
<rect x="644.36" y="173.10000000000002" width="5.8" height="8.8" fill="#484848"/>
<rect x="646.26" y="173.10000000000002" width="2" height="1.4" fill="#eee"/>
<circle cx="647.26" cy="176.9" r="1.8" fill="#8a8a8a" stroke="#222" stroke-width="0.8"/>
<rect x="645.06" y="179.60000000000002" width="4.4" height="2.3" rx="1" fill="#f6f6f6"/>
<rect x="644.06" y="181.9" width="6.4" height="1.0" fill="#151515"/>
<path d="M652.1999999999999,171.10000000000002 H658.4 L657.5,173.10000000000002 H653.0999999999999Z" fill="#222"/>
<rect x="654.5" y="171.60000000000002" width="1.6" height="2.8" fill="#f0f0f0"/>
<rect x="652.4" y="173.10000000000002" width="5.8" height="8.8" fill="#484848"/>
<rect x="654.3" y="173.10000000000002" width="2" height="1.4" fill="#eee"/>
<circle cx="655.3" cy="176.9" r="1.8" fill="#8a8a8a" stroke="#222" stroke-width="0.8"/>
<rect x="653.0999999999999" y="179.60000000000002" width="4.4" height="2.3" rx="1" fill="#f6f6f6"/>
<rect x="652.0999999999999" y="181.9" width="6.4" height="1.0" fill="#151515"/>
<path d="M660.2399999999999,171.10000000000002 H666.4399999999999 L665.54,173.10000000000002 H661.1399999999999Z" fill="#222"/>
<rect x="662.54" y="171.60000000000002" width="1.6" height="2.8" fill="#f0f0f0"/>
<rect x="660.4399999999999" y="173.10000000000002" width="5.8" height="8.8" fill="#484848"/>
<rect x="662.3399999999999" y="173.10000000000002" width="2" height="1.4" fill="#eee"/>
<circle cx="663.3399999999999" cy="176.9" r="1.8" fill="#8a8a8a" stroke="#222" stroke-width="0.8"/>
<rect x="661.1399999999999" y="179.60000000000002" width="4.4" height="2.3" rx="1" fill="#f6f6f6"/>
<rect x="660.1399999999999" y="181.9" width="6.4" height="1.0" fill="#151515"/>
<path d="M668.28,171.10000000000002 H674.48 L673.58,173.10000000000002 H669.18Z" fill="#222"/>
<rect x="670.58" y="171.60000000000002" width="1.6" height="2.8" fill="#f0f0f0"/>
<rect x="668.48" y="173.10000000000002" width="5.8" height="8.8" fill="#484848"/>
<rect x="670.38" y="173.10000000000002" width="2" height="1.4" fill="#eee"/>
<circle cx="671.38" cy="176.9" r="1.8" fill="#8a8a8a" stroke="#222" stroke-width="0.8"/>
<rect x="669.18" y="179.60000000000002" width="4.4" height="2.3" rx="1" fill="#f6f6f6"/>
<rect x="668.18" y="181.9" width="6.4" height="1.0" fill="#151515"/>
<rect x="675.4" y="169.3" width="97.08" height="15.0" fill="#ababab" stroke="#262626" stroke-width="1"/>
<rect x="675.9" y="169.8" width="96.08" height="1.3" fill="#ececec"/>
<rect x="675.9" y="182.70000000000002" width="96.08" height="1.1" fill="#c8c8c8"/>
<path d="M676.3449999999999,171.10000000000002 H682.545 L681.645,173.10000000000002 H677.2449999999999Z" fill="#222"/>
<rect x="678.645" y="171.60000000000002" width="1.6" height="2.8" fill="#f0f0f0"/>
<rect x="676.545" y="173.10000000000002" width="5.8" height="8.8" fill="#484848"/>
<rect x="678.4449999999999" y="173.10000000000002" width="2" height="1.4" fill="#eee"/>
<circle cx="679.4449999999999" cy="176.9" r="1.8" fill="#8a8a8a" stroke="#222" stroke-width="0.8"/>
<rect x="677.2449999999999" y="179.60000000000002" width="4.4" height="2.3" rx="1" fill="#f6f6f6"/>
<rect x="676.2449999999999" y="181.9" width="6.4" height="1.0" fill="#151515"/>
<path d="M684.435,171.10000000000002 H690.635 L689.735,173.10000000000002 H685.3349999999999Z" fill="#222"/>
<rect x="686.735" y="171.60000000000002" width="1.6" height="2.8" fill="#f0f0f0"/>
<rect x="684.635" y="173.10000000000002" width="5.8" height="8.8" fill="#484848"/>
<rect x="686.535" y="173.10000000000002" width="2" height="1.4" fill="#eee"/>
<circle cx="687.535" cy="176.9" r="1.8" fill="#8a8a8a" stroke="#222" stroke-width="0.8"/>
<rect x="685.3349999999999" y="179.60000000000002" width="4.4" height="2.3" rx="1" fill="#f6f6f6"/>
<rect x="684.3349999999999" y="181.9" width="6.4" height="1.0" fill="#151515"/>
<path d="M692.5249999999999,171.10000000000002 H698.7249999999999 L697.8249999999999,173.10000000000002 H693.4249999999998Z" fill="#222"/>
<rect x="694.8249999999999" y="171.60000000000002" width="1.6" height="2.8" fill="#f0f0f0"/>
<rect x="692.7249999999999" y="173.10000000000002" width="5.8" height="8.8" fill="#484848"/>
<rect x="694.6249999999999" y="173.10000000000002" width="2" height="1.4" fill="#eee"/>
<circle cx="695.6249999999999" cy="176.9" r="1.8" fill="#8a8a8a" stroke="#222" stroke-width="0.8"/>
<rect x="693.4249999999998" y="179.60000000000002" width="4.4" height="2.3" rx="1" fill="#f6f6f6"/>
<rect x="692.4249999999998" y="181.9" width="6.4" height="1.0" fill="#151515"/>
<path d="M700.6149999999999,171.10000000000002 H706.8149999999999 L705.915,173.10000000000002 H701.5149999999999Z" fill="#222"/>
<rect x="702.915" y="171.60000000000002" width="1.6" height="2.8" fill="#f0f0f0"/>
<rect x="700.8149999999999" y="173.10000000000002" width="5.8" height="8.8" fill="#484848"/>
<rect x="702.7149999999999" y="173.10000000000002" width="2" height="1.4" fill="#eee"/>
<circle cx="703.7149999999999" cy="176.9" r="1.8" fill="#8a8a8a" stroke="#222" stroke-width="0.8"/>
<rect x="701.5149999999999" y="179.60000000000002" width="4.4" height="2.3" rx="1" fill="#f6f6f6"/>
<rect x="700.5149999999999" y="181.9" width="6.4" height="1.0" fill="#151515"/>
<path d="M708.7049999999999,171.10000000000002 H714.905 L714.005,173.10000000000002 H709.6049999999999Z" fill="#222"/>
<rect x="711.005" y="171.60000000000002" width="1.6" height="2.8" fill="#f0f0f0"/>
<rect x="708.905" y="173.10000000000002" width="5.8" height="8.8" fill="#484848"/>
<rect x="710.805" y="173.10000000000002" width="2" height="1.4" fill="#eee"/>
<circle cx="711.805" cy="176.9" r="1.8" fill="#8a8a8a" stroke="#222" stroke-width="0.8"/>
<rect x="709.6049999999999" y="179.60000000000002" width="4.4" height="2.3" rx="1" fill="#f6f6f6"/>
<rect x="708.6049999999999" y="181.9" width="6.4" height="1.0" fill="#151515"/>
<path d="M716.795,171.10000000000002 H722.995 L722.095,173.10000000000002 H717.6949999999999Z" fill="#222"/>
<rect x="719.095" y="171.60000000000002" width="1.6" height="2.8" fill="#f0f0f0"/>
<rect x="716.995" y="173.10000000000002" width="5.8" height="8.8" fill="#484848"/>
<rect x="718.895" y="173.10000000000002" width="2" height="1.4" fill="#eee"/>
<circle cx="719.895" cy="176.9" r="1.8" fill="#8a8a8a" stroke="#222" stroke-width="0.8"/>
<rect x="717.6949999999999" y="179.60000000000002" width="4.4" height="2.3" rx="1" fill="#f6f6f6"/>
<rect x="716.6949999999999" y="181.9" width="6.4" height="1.0" fill="#151515"/>
<path d="M724.8849999999999,171.10000000000002 H731.0849999999999 L730.185,173.10000000000002 H725.7849999999999Z" fill="#222"/>
<rect x="727.185" y="171.60000000000002" width="1.6" height="2.8" fill="#f0f0f0"/>
<rect x="725.0849999999999" y="173.10000000000002" width="5.8" height="8.8" fill="#484848"/>
<rect x="726.9849999999999" y="173.10000000000002" width="2" height="1.4" fill="#eee"/>
<circle cx="727.9849999999999" cy="176.9" r="1.8" fill="#8a8a8a" stroke="#222" stroke-width="0.8"/>
<rect x="725.7849999999999" y="179.60000000000002" width="4.4" height="2.3" rx="1" fill="#f6f6f6"/>
<rect x="724.7849999999999" y="181.9" width="6.4" height="1.0" fill="#151515"/>
<path d="M732.9749999999999,171.10000000000002 H739.175 L738.275,173.10000000000002 H733.8749999999999Z" fill="#222"/>
<rect x="735.275" y="171.60000000000002" width="1.6" height="2.8" fill="#f0f0f0"/>
<rect x="733.175" y="173.10000000000002" width="5.8" height="8.8" fill="#484848"/>
<rect x="735.0749999999999" y="173.10000000000002" width="2" height="1.4" fill="#eee"/>
<circle cx="736.0749999999999" cy="176.9" r="1.8" fill="#8a8a8a" stroke="#222" stroke-width="0.8"/>
<rect x="733.8749999999999" y="179.60000000000002" width="4.4" height="2.3" rx="1" fill="#f6f6f6"/>
<rect x="732.8749999999999" y="181.9" width="6.4" height="1.0" fill="#151515"/>
<path d="M741.0649999999999,171.10000000000002 H747.265 L746.365,173.10000000000002 H741.9649999999999Z" fill="#222"/>
<rect x="743.365" y="171.60000000000002" width="1.6" height="2.8" fill="#f0f0f0"/>
<rect x="741.265" y="173.10000000000002" width="5.8" height="8.8" fill="#484848"/>
<rect x="743.165" y="173.10000000000002" width="2" height="1.4" fill="#eee"/>
<circle cx="744.165" cy="176.9" r="1.8" fill="#8a8a8a" stroke="#222" stroke-width="0.8"/>
<rect x="741.9649999999999" y="179.60000000000002" width="4.4" height="2.3" rx="1" fill="#f6f6f6"/>
<rect x="740.9649999999999" y="181.9" width="6.4" height="1.0" fill="#151515"/>
<path d="M749.155,171.10000000000002 H755.355 L754.455,173.10000000000002 H750.055Z" fill="#222"/>
<rect x="751.455" y="171.60000000000002" width="1.6" height="2.8" fill="#f0f0f0"/>
<rect x="749.355" y="173.10000000000002" width="5.8" height="8.8" fill="#484848"/>
<rect x="751.255" y="173.10000000000002" width="2" height="1.4" fill="#eee"/>
<circle cx="752.255" cy="176.9" r="1.8" fill="#8a8a8a" stroke="#222" stroke-width="0.8"/>
<rect x="750.055" y="179.60000000000002" width="4.4" height="2.3" rx="1" fill="#f6f6f6"/>
<rect x="749.055" y="181.9" width="6.4" height="1.0" fill="#151515"/>
<path d="M757.2449999999999,171.10000000000002 H763.4449999999999 L762.545,173.10000000000002 H758.1449999999999Z" fill="#222"/>
<rect x="759.545" y="171.60000000000002" width="1.6" height="2.8" fill="#f0f0f0"/>
<rect x="757.4449999999999" y="173.10000000000002" width="5.8" height="8.8" fill="#484848"/>
<rect x="759.3449999999999" y="173.10000000000002" width="2" height="1.4" fill="#eee"/>
<circle cx="760.3449999999999" cy="176.9" r="1.8" fill="#8a8a8a" stroke="#222" stroke-width="0.8"/>
<rect x="758.1449999999999" y="179.60000000000002" width="4.4" height="2.3" rx="1" fill="#f6f6f6"/>
<rect x="757.1449999999999" y="181.9" width="6.4" height="1.0" fill="#151515"/>
<path d="M765.3349999999999,171.10000000000002 H771.535 L770.635,173.10000000000002 H766.2349999999999Z" fill="#222"/>
<rect x="767.635" y="171.60000000000002" width="1.6" height="2.8" fill="#f0f0f0"/>
<rect x="765.535" y="173.10000000000002" width="5.8" height="8.8" fill="#484848"/>
<rect x="767.435" y="173.10000000000002" width="2" height="1.4" fill="#eee"/>
<circle cx="768.435" cy="176.9" r="1.8" fill="#8a8a8a" stroke="#222" stroke-width="0.8"/>
<rect x="766.2349999999999" y="179.60000000000002" width="4.4" height="2.3" rx="1" fill="#f6f6f6"/>
<rect x="765.2349999999999" y="181.9" width="6.4" height="1.0" fill="#151515"/>
<text x="598" y="126.3" font-size="4.3" font-weight="bold" fill="#555" textLength="76" lengthAdjust="spacingAndGlyphs">IN1 IN2 IN3 IN4 ⏚ IN5 IN6 IN7 IN8 ⏚</text>
<text x="678" y="126.3" font-size="4.3" font-weight="bold" fill="#555" textLength="92" lengthAdjust="spacingAndGlyphs">IN9 IN10 IN11 IN12 ⏚ IN13 IN14 IN15 IN16 ⏚ R+ R-</text>
<text x="597" y="165.4" font-size="4.3" font-weight="bold" fill="#555" textLength="76" lengthAdjust="spacingAndGlyphs">NO1 C1 NO2 C2 NO3 C3 NO4 C4 NC4 ⏚</text>
<text x="678" y="165.4" font-size="4.3" font-weight="bold" fill="#555" textLength="92" lengthAdjust="spacingAndGlyphs">NO5 C5 NO6 C6 NO7 C7 CTRL P  A  B  T+ T-</text>
<path d="M681.10,103.60 L677.45,109.92 L670.15,109.92 L666.50,103.60 L670.15,97.28 L677.45,97.28Z" fill="#fff" stroke="#707070" stroke-width="1.1" stroke-linejoin="round"/>
<circle cx="673.8" cy="103.6" r="5.4" fill="#fff" stroke="#707070" stroke-width="1.1"/>
<path d="M612.70,156.70 L609.05,163.02 L601.75,163.02 L598.10,156.70 L601.75,150.38 L609.05,150.38Z" fill="#fff" stroke="#707070" stroke-width="1.1" stroke-linejoin="round"/>
<circle cx="605.4" cy="156.7" r="5.4" fill="#fff" stroke="#707070" stroke-width="1.1"/>
<path d="M755.10,157.00 L751.45,163.32 L744.15,163.32 L740.50,157.00 L744.15,150.68 L751.45,150.68Z" fill="#fff" stroke="#707070" stroke-width="1.1" stroke-linejoin="round"/>
<circle cx="747.8" cy="157" r="5.4" fill="#fff" stroke="#707070" stroke-width="1.1"/>
<g fill="none" stroke="#151515" stroke-width="1.6"><path d="M637.9,186 V191.7 M645.3,186 V191.7 M637.9,188.85 H645.3"/><path d="M647.4,186.8 H653.4 Q655.7,186.8 655.7,188.85 Q655.7,190.9 653.4,190.9 H647.4Z"/><path d="M658.1,191.7 V188.3 Q658.1,186.8 659.6,186.8 H665.6 Q667.1,186.8 667.1,188.3 V191.7 M662.6,186.8 V191.7"/></g>
<rect x="668.6" y="186" width="3.1" height="5.7" fill="#151515"/>
<text x="672.8" y="189.6" font-size="4.4" font-weight="bold" fill="#777" textLength="6.8" lengthAdjust="spacingAndGlyphs">TM</text>
<rect x="503.4" y="182" width="67.4" height="10.7" fill="#fff" stroke="#666" stroke-width="0.8"/>
<rect x="526.1" y="182" width="10.9" height="10.7" fill="#111"/>
<rect x="559.5" y="182" width="11.3" height="10.7" fill="#111"/>
<text x="531.5" y="190.4" font-size="7" font-weight="bold" fill="#fff" text-anchor="middle">2</text>
<text x="565.1" y="190.4" font-size="7" font-weight="bold" fill="#fff" text-anchor="middle">1</text>
<g fill="#fff" stroke="#888" stroke-width="0.8"><rect x="513.6" y="183.5" width="3" height="2.5"/><rect x="510.6" y="188.5" width="3" height="3"/><rect x="516.6" y="188.5" width="3" height="3"/><path d="M515.1,186 V188.5 M512.1,188.5 V187.3 H518.1 V188.5"/></g>
<g fill="#fff" stroke="#888" stroke-width="0.8"><rect x="546.8" y="183.5" width="3" height="2.5"/><rect x="543.8" y="188.5" width="3" height="3"/><rect x="549.8" y="188.5" width="3" height="3"/><path d="M548.3,186 V188.5 M545.3,188.5 V187.3 H551.3 V188.5"/></g>
<rect x="503.7" y="195.2" width="66.4" height="30.3" fill="#fff" stroke="#333" stroke-width="1.1"/>
<path d="M504.5,198.1 H569.3" stroke="#777" stroke-width="0.9"/>
<rect x="504.2" y="223.6" width="65.4" height="2.4" fill="#151515"/>
<rect x="505.7" y="199.8" width="29.9" height="21.7" fill="#f4f4f4" stroke="#3a3a3a" stroke-width="1.1"/>
<rect x="507.2" y="207.5" width="26.9" height="13" fill="#c4c4c4"/>
<rect x="506.09999999999997" y="200.2" width="7.6" height="4.9" rx="1.2" fill="#1e1e1e"/><ellipse cx="509.9" cy="202.65" rx="2.6" ry="1.5" fill="#b8b8b8"/>
<rect x="527.6" y="200.2" width="7.6" height="4.9" rx="1.2" fill="#1e1e1e"/><ellipse cx="531.4" cy="202.65" rx="2.6" ry="1.5" fill="#b8b8b8"/>
<rect x="515.9" y="200.4" width="11.2" height="7.9" fill="#fff" stroke="#3a3a3a" stroke-width="1"/>
<rect x="517.5" y="202" width="8" height="4.8" fill="#ddd"/>
<rect x="514.3" y="208.3" width="13" height="3.6" fill="#f0f0f0" stroke="#555" stroke-width="0.8"/>
<rect x="508.7" y="212.5" width="23.9" height="7.5" fill="#f6f6f6" stroke="#777" stroke-width="0.7"/>
<rect x="513.2" y="215" width="15" height="5.2" fill="#4a4a4a"/>
<path d="M515.2,215 V220.2 M517.7,215 V220.2 M520.2,215 V220.2 M522.7,215 V220.2 M525.2,215 V220.2" stroke="#aaa" stroke-width="0.7"/>
<rect x="538.0" y="199.8" width="29.9" height="21.7" fill="#f4f4f4" stroke="#3a3a3a" stroke-width="1.1"/>
<rect x="539.5" y="207.5" width="26.9" height="13" fill="#c4c4c4"/>
<rect x="538.4" y="200.2" width="7.6" height="4.9" rx="1.2" fill="#1e1e1e"/><ellipse cx="542.2" cy="202.65" rx="2.6" ry="1.5" fill="#b8b8b8"/>
<rect x="559.9" y="200.2" width="7.6" height="4.9" rx="1.2" fill="#1e1e1e"/><ellipse cx="563.6999999999999" cy="202.65" rx="2.6" ry="1.5" fill="#b8b8b8"/>
<rect x="548.2" y="200.4" width="11.2" height="7.9" fill="#fff" stroke="#3a3a3a" stroke-width="1"/>
<rect x="549.8" y="202" width="8" height="4.8" fill="#ddd"/>
<rect x="546.6" y="208.3" width="13" height="3.6" fill="#f0f0f0" stroke="#555" stroke-width="0.8"/>
<rect x="541.0" y="212.5" width="23.9" height="7.5" fill="#f6f6f6" stroke="#777" stroke-width="0.7"/>
<rect x="545.5" y="215" width="15" height="5.2" fill="#4a4a4a"/>
<path d="M547.5,215 V220.2 M550.0,215 V220.2 M552.5,215 V220.2 M555.0,215 V220.2 M557.5,215 V220.2" stroke="#aaa" stroke-width="0.7"/>
<text x="592.8" y="210.9" font-size="6.4" font-weight="bold" fill="#222" text-anchor="middle" textLength="22.6" lengthAdjust="spacingAndGlyphs">eSATA</text>
<rect x="573.3" y="213.3" width="39.1" height="11.1" rx="1" fill="#8a8a8a" stroke="#222" stroke-width="1.5"/>
<path d="M575.5,215 H610.3 V217.6 H604 Q603,216 601,216 H585 Q583,216 582,217.6 H575.5Z" fill="#f4f4f4"/>
<rect x="582.5" y="217.6" width="21" height="1.8" fill="#eee"/>
<rect x="583" y="218.5" width="20" height="2.6" fill="#3a3a3a"/>
<rect x="585.5" y="221.6" width="15" height="1.5" fill="#e8e8e8"/>
<circle cx="635.3" cy="199.9" r="6" fill="#fff" stroke="#1a1a1a" stroke-width="1.6"/>
<path d="M635.3,195.6 L636.1999999999999,199 L639.5999999999999,199.9 L636.1999999999999,200.8 L635.3,204.2 L634.4,200.8 L631.0,199.9 L634.4,199Z" fill="#1a1a1a"/>
<text x="625.0999999999999" y="211" font-size="4.4" font-weight="bold" fill="#222" textLength="16" lengthAdjust="spacingAndGlyphs">HDMI</text>
<text x="643.5" y="211" font-size="4" fill="#444">2</text>
<path d="M619.3,212.6 Q619.3,211.5 620.5,211.5 H649.8999999999999 Q651.0999999999999,211.5 651.0999999999999,212.6 V219.6 L646.8999999999999,223.9 H623.5 L619.3,219.6Z" fill="#2a2a2a"/>
<path d="M621.9,213.9 H648.4999999999999 V219 L645.6999999999999,221.8 H624.6999999999999 L621.9,219Z" fill="#f2f2f2"/>
<rect x="623.8" y="216.4" width="22.799999999999955" height="2.2" fill="#222"/>
<path d="M624.3,215 H646.0999999999999" stroke="#777" stroke-width="0.9" stroke-dasharray="1.2,0.8"/>
<path d="M625.8,220.2 H644.5999999999999" stroke="#888" stroke-width="0.8" stroke-dasharray="1.2,0.8"/>
<circle cx="680.9" cy="199.9" r="6" fill="#fff" stroke="#1a1a1a" stroke-width="1.6"/>
<path d="M680.9,195.6 L681.8,199 L685.1999999999999,199.9 L681.8,200.8 L680.9,204.2 L680.0,200.8 L676.6,199.9 L680.0,199Z" fill="#1a1a1a"/>
<text x="670.6999999999999" y="211" font-size="4.4" font-weight="bold" fill="#222" textLength="16" lengthAdjust="spacingAndGlyphs">HDMI</text>
<text x="689.1" y="211" font-size="4" fill="#444">1</text>
<path d="M664.9,212.6 Q664.9,211.5 666.1,211.5 H695.4999999999999 Q696.6999999999999,211.5 696.6999999999999,212.6 V219.6 L692.4999999999999,223.9 H669.1 L664.9,219.6Z" fill="#2a2a2a"/>
<path d="M667.5,213.9 H694.0999999999999 V219 L691.3,221.8 H670.3 L667.5,219Z" fill="#f2f2f2"/>
<rect x="669.4" y="216.4" width="22.799999999999955" height="2.2" fill="#222"/>
<path d="M669.9,215 H691.6999999999999" stroke="#777" stroke-width="0.9" stroke-dasharray="1.2,0.8"/>
<path d="M671.4,220.2 H690.1999999999999" stroke="#888" stroke-width="0.8" stroke-dasharray="1.2,0.8"/>
<text x="722" y="206.9" font-size="6.4" font-weight="bold" fill="#222" text-anchor="middle" textLength="24.6" lengthAdjust="spacingAndGlyphs">USB3.0</text>
<text x="756.6" y="206.9" font-size="6.4" font-weight="bold" fill="#222" text-anchor="middle" textLength="24.1" lengthAdjust="spacingAndGlyphs">USB3.0</text>
<rect x="708" y="210.8" width="27.2" height="12.3" fill="#fff" stroke="#222" stroke-width="1.3"/>
<rect x="709.2" y="211.9" width="24.8" height="3.6" fill="#b8b8b8"/>
<path d="M711,213.2 H732" stroke="#eee" stroke-width="0.9" stroke-dasharray="2.2,1.2"/>
<path d="M709,215.9 H734.2" stroke="#333" stroke-width="1"/>
<g fill="#999"><circle cx="715" cy="217.6" r="0.9"/><circle cx="719.6" cy="217.6" r="0.9"/><circle cx="724.2" cy="217.6" r="0.9"/><circle cx="728.8" cy="217.6" r="0.9"/><circle cx="715.5" cy="221.3" r="0.9"/><circle cx="728.5" cy="221.3" r="0.9"/></g>
<rect x="742.6" y="210.8" width="27.6" height="12.3" rx="0.8" fill="#fff" stroke="#1a1a1a" stroke-width="1.8"/>
<rect x="744" y="212" width="24.8" height="3.4" fill="#aaa"/>
<path d="M746,213.3 H767" stroke="#eee" stroke-width="0.9" stroke-dasharray="2.2,1.2"/>
<path d="M743.8,216 H769" stroke="#333" stroke-width="1"/>
<rect x="745.5" y="217.2" width="22" height="4.6" rx="2.3" fill="#f4f4f4" stroke="#555" stroke-width="0.7"/>
<path d="M748,219.5 H765" stroke="#222" stroke-width="2.2" stroke-dasharray="2.4,1.4"/>
<text x="812.3" y="117.9" font-size="6.8" font-weight="bold" fill="#222" text-anchor="middle" textLength="20.6" lengthAdjust="spacingAndGlyphs">RS232</text>
<path d="M795.5,121.2 H827.9 Q830.9,121.2 830.6,124.2 L828.6999999999999,138.4 Q828.3,141.4 825.1999999999999,141.4 H798.2 Q795.1,141.4 794.7,138.4 L792.8,124.2 Q792.5,121.2 795.5,121.2Z" fill="#fff" stroke="#3a3a3a" stroke-width="1.5"/>
<path d="M795.5999999999999,123.5 H827.8000000000001 Q828.6,123.5 828.4,124.3 L827.0,138.5 Q826.6999999999999,139.1 825.9,139.1 H797.5 Q796.7,139.1 796.4,138.5 L795.0,124.3 Q794.8,123.5 795.5999999999999,123.5Z" fill="#fff" stroke="#666" stroke-width="0.9"/>
<circle cx="800.20" cy="128.2" r="1.0" fill="#fff" stroke="#333" stroke-width="0.9"/>
<circle cx="805.80" cy="128.2" r="1.0" fill="#fff" stroke="#333" stroke-width="0.9"/>
<circle cx="811.40" cy="128.2" r="1.0" fill="#fff" stroke="#333" stroke-width="0.9"/>
<circle cx="817.00" cy="128.2" r="1.0" fill="#fff" stroke="#333" stroke-width="0.9"/>
<circle cx="822.60" cy="128.2" r="1.0" fill="#fff" stroke="#333" stroke-width="0.9"/>
<circle cx="803.00" cy="134.2" r="1.0" fill="#fff" stroke="#333" stroke-width="0.9"/>
<circle cx="808.60" cy="134.2" r="1.0" fill="#fff" stroke="#333" stroke-width="0.9"/>
<circle cx="814.20" cy="134.2" r="1.0" fill="#fff" stroke="#333" stroke-width="0.9"/>
<circle cx="819.80" cy="134.2" r="1.0" fill="#fff" stroke="#333" stroke-width="0.9"/>
<path d="M791.80,131.30 L788.70,136.67 L782.50,136.67 L779.40,131.30 L782.50,125.93 L788.70,125.93Z" fill="#fff" stroke="#707070" stroke-width="1.1" stroke-linejoin="round"/>
<circle cx="785.6" cy="131.3" r="3.6" fill="#fff" stroke="#707070" stroke-width="1.1"/>
<path d="M843.20,131.30 L840.10,136.67 L833.90,136.67 L830.80,131.30 L833.90,125.93 L840.10,125.93Z" fill="#fff" stroke="#707070" stroke-width="1.1" stroke-linejoin="round"/>
<circle cx="837" cy="131.3" r="3.6" fill="#fff" stroke="#707070" stroke-width="1.1"/>
<text x="811.4" y="159.7" font-size="6.5" font-weight="bold" fill="#222" text-anchor="middle" textLength="19.2" lengthAdjust="spacingAndGlyphs">VGA 2</text>
<path d="M796.2,162.3 H826.6 Q829.6,162.3 829.3000000000001,165.3 L827.2,179.6 Q826.8000000000001,182.6 823.7,182.6 H799.1 Q796.0,182.6 795.6,179.6 L793.5,165.3 Q793.2,162.3 796.2,162.3Z" fill="#fff" stroke="#3a3a3a" stroke-width="1.4"/>
<path d="M796.3,164.60000000000002 H826.5000000000001 Q827.3000000000001,164.60000000000002 827.1,165.40000000000003 L825.5000000000001,179.7 Q825.2,180.29999999999998 824.4000000000001,180.29999999999998 H798.4 Q797.6,180.29999999999998 797.3,179.7 L795.7,165.40000000000003 Q795.5,164.60000000000002 796.3,164.60000000000002Z" fill="#fff" stroke="#666" stroke-width="0.9"/>
<circle cx="801.00" cy="167.4" r="1.35" fill="#5a5a5a" stroke="#333" stroke-width="0.5"/>
<circle cx="806.30" cy="167.4" r="1.35" fill="#5a5a5a" stroke="#333" stroke-width="0.5"/>
<circle cx="811.60" cy="167.4" r="1.35" fill="#5a5a5a" stroke="#333" stroke-width="0.5"/>
<circle cx="816.90" cy="167.4" r="1.35" fill="#5a5a5a" stroke="#333" stroke-width="0.5"/>
<circle cx="822.20" cy="167.4" r="1.35" fill="#5a5a5a" stroke="#333" stroke-width="0.5"/>
<circle cx="803.60" cy="172.0" r="1.35" fill="#5a5a5a" stroke="#333" stroke-width="0.5"/>
<circle cx="808.90" cy="172.0" r="1.35" fill="#5a5a5a" stroke="#333" stroke-width="0.5"/>
<circle cx="814.20" cy="172.0" r="1.35" fill="#5a5a5a" stroke="#333" stroke-width="0.5"/>
<circle cx="819.50" cy="172.0" r="1.35" fill="#5a5a5a" stroke="#333" stroke-width="0.5"/>
<circle cx="824.80" cy="172.0" r="1.35" fill="#5a5a5a" stroke="#333" stroke-width="0.5"/>
<circle cx="800.80" cy="176.6" r="1.35" fill="#5a5a5a" stroke="#333" stroke-width="0.5"/>
<circle cx="806.15" cy="176.6" r="1.35" fill="#5a5a5a" stroke="#333" stroke-width="0.5"/>
<circle cx="811.50" cy="176.6" r="1.35" fill="#5a5a5a" stroke="#333" stroke-width="0.5"/>
<circle cx="816.85" cy="176.6" r="1.35" fill="#5a5a5a" stroke="#333" stroke-width="0.5"/>
<circle cx="822.20" cy="176.6" r="1.35" fill="#5a5a5a" stroke="#333" stroke-width="0.5"/>
<path d="M791.80,172.40 L788.70,177.77 L782.50,177.77 L779.40,172.40 L782.50,167.03 L788.70,167.03Z" fill="#fff" stroke="#707070" stroke-width="1.1" stroke-linejoin="round"/>
<circle cx="785.6" cy="172.4" r="3.6" fill="#fff" stroke="#707070" stroke-width="1.1"/>
<path d="M843.20,172.40 L840.10,177.77 L833.90,177.77 L830.80,172.40 L833.90,167.03 L840.10,167.03Z" fill="#fff" stroke="#707070" stroke-width="1.1" stroke-linejoin="round"/>
<circle cx="837" cy="172.4" r="3.6" fill="#fff" stroke="#707070" stroke-width="1.1"/>
<text x="810.9" y="199.8" font-size="6.5" font-weight="bold" fill="#222" text-anchor="middle" textLength="18.4" lengthAdjust="spacingAndGlyphs">VGA 1</text>
<path d="M793.4,203 H824.6999999999999 Q827.3,203 827.0,205.6 L824.6999999999999,219.70000000000002 Q824.3,222.3 821.5999999999999,222.3 H796.5 Q793.8,222.3 793.4,219.70000000000002 L791.0999999999999,205.6 Q790.8,203 793.4,203Z" fill="#fff" stroke="#222" stroke-width="1.9"/>
<path d="M793.8999999999999,205.3 H824.2 Q825.0,205.3 824.8,206.10000000000002 L823.0,219.4 Q822.6999999999999,220.0 821.9,220.0 H796.1999999999999 Q795.4,220.0 795.0999999999999,219.4 L793.3,206.10000000000002 Q793.0999999999999,205.3 793.8999999999999,205.3Z" fill="#fff" stroke="#666" stroke-width="0.9"/>
<circle cx="799.30" cy="207.9" r="1.6" fill="#fff" stroke="#333" stroke-width="0.9"/>
<circle cx="804.00" cy="207.9" r="1.6" fill="#fff" stroke="#333" stroke-width="0.9"/>
<circle cx="808.70" cy="207.9" r="1.6" fill="#fff" stroke="#333" stroke-width="0.9"/>
<circle cx="813.40" cy="207.9" r="1.6" fill="#fff" stroke="#333" stroke-width="0.9"/>
<circle cx="818.10" cy="207.9" r="1.6" fill="#fff" stroke="#333" stroke-width="0.9"/>
<circle cx="801.60" cy="212.6" r="1.6" fill="#fff" stroke="#333" stroke-width="0.9"/>
<circle cx="806.30" cy="212.6" r="1.6" fill="#fff" stroke="#333" stroke-width="0.9"/>
<circle cx="811.00" cy="212.6" r="1.6" fill="#fff" stroke="#333" stroke-width="0.9"/>
<circle cx="815.70" cy="212.6" r="1.6" fill="#fff" stroke="#333" stroke-width="0.9"/>
<circle cx="820.40" cy="212.6" r="1.6" fill="#fff" stroke="#333" stroke-width="0.9"/>
<circle cx="799.30" cy="217.3" r="1.6" fill="#fff" stroke="#333" stroke-width="0.9"/>
<circle cx="804.00" cy="217.3" r="1.6" fill="#fff" stroke="#333" stroke-width="0.9"/>
<circle cx="808.70" cy="217.3" r="1.6" fill="#fff" stroke="#333" stroke-width="0.9"/>
<circle cx="813.40" cy="217.3" r="1.6" fill="#fff" stroke="#333" stroke-width="0.9"/>
<circle cx="818.10" cy="217.3" r="1.6" fill="#fff" stroke="#333" stroke-width="0.9"/>
<path d="M789.10,212.80 L786.40,217.48 L781.00,217.48 L778.30,212.80 L781.00,208.12 L786.40,208.12Z" fill="#9a9a9a" stroke="#333" stroke-width="1.1" stroke-linejoin="round"/>
<circle cx="783.7" cy="212.8" r="2.7" fill="#fff" stroke="#333" stroke-width="1.1"/>
<path d="M840.50,212.80 L837.80,217.48 L832.40,217.48 L829.70,212.80 L832.40,208.12 L837.80,208.12Z" fill="#9a9a9a" stroke="#333" stroke-width="1.1" stroke-linejoin="round"/>
<circle cx="835.1" cy="212.8" r="2.7" fill="#fff" stroke="#333" stroke-width="1.1"/>
<rect x="844.3" y="133.2" width="31.9" height="94" fill="#111"/>
<rect x="846.3" y="134.8" width="28.8" height="4.9" fill="#fff"/>
<text x="860.6" y="139.1" font-size="5" font-weight="bold" fill="#111" text-anchor="middle" textLength="10.5" lengthAdjust="spacingAndGlyphs">MIC</text>
<line x1="845" y1="168.8" x2="876" y2="168.8" stroke="#999" stroke-width="0.8"/>
<line x1="845" y1="197" x2="876" y2="197" stroke="#999" stroke-width="0.8"/>
<circle cx="860" cy="155.1" r="11" fill="#151515" stroke="#9a9a9a" stroke-width="1.4"/>
<circle cx="860" cy="155.1" r="9" fill="none" stroke="#c8c8c8" stroke-width="1.2"/>
<circle cx="860" cy="155.1" r="6.4" fill="#222" stroke="#e6e6e6" stroke-width="1.6"/>
<circle cx="860" cy="155.1" r="4.3" fill="#333" stroke="#777" stroke-width="0.8"/>
<path d="M857.3,153.9 H862.7 M857,156.5 H863" stroke="#eee" stroke-width="1.1"/>
<text x="846.3" y="145.29999999999998" font-size="3.4" fill="#e8e8e8" font-weight="bold">OUT</text>
<text x="875" y="145.29999999999998" font-size="3.4" fill="#e8e8e8" text-anchor="end" font-weight="bold">2</text>
<circle cx="860" cy="183.1" r="11" fill="#151515" stroke="#9a9a9a" stroke-width="1.4"/>
<circle cx="860" cy="183.1" r="9" fill="none" stroke="#c8c8c8" stroke-width="1.2"/>
<circle cx="860" cy="183.1" r="6.4" fill="#222" stroke="#e6e6e6" stroke-width="1.6"/>
<circle cx="860" cy="183.1" r="4.3" fill="#333" stroke="#777" stroke-width="0.8"/>
<path d="M857.3,181.9 H862.7 M857,184.5 H863" stroke="#eee" stroke-width="1.1"/>
<text x="846.3" y="173.29999999999998" font-size="3.4" fill="#e8e8e8" font-weight="bold">OUT</text>
<text x="875" y="173.29999999999998" font-size="3.4" fill="#e8e8e8" text-anchor="end" font-weight="bold">1</text>
<circle cx="860" cy="212" r="11" fill="#151515" stroke="#9a9a9a" stroke-width="1.4"/>
<circle cx="860" cy="212" r="9" fill="none" stroke="#c8c8c8" stroke-width="1.2"/>
<circle cx="860" cy="212" r="6.4" fill="#222" stroke="#e6e6e6" stroke-width="1.6"/>
<circle cx="860" cy="212" r="4.3" fill="#333" stroke="#777" stroke-width="0.8"/>
<path d="M858.8,209.2 V214.8 M861.2,209.2 V214.8" stroke="#eee" stroke-width="1.1"/>
<text x="846.3" y="202.2" font-size="3.4" fill="#e8e8e8" font-weight="bold">IN</text>
<line x1="77.8" y1="49.2" x2="77.8" y2="113" stroke="#1e1e1e" stroke-width="2"/>
<path d="M77.8,37.7 L74.0,50.2 L81.6,50.2Z" fill="#1e1e1e"/>
<line x1="632.9" y1="49.2" x2="632.9" y2="120.9" stroke="#1e1e1e" stroke-width="2"/>
<path d="M632.9,37.7 L629.1,50.2 L636.6999999999999,50.2Z" fill="#1e1e1e"/>
<line x1="747.5" y1="49.2" x2="747.5" y2="153.4" stroke="#1e1e1e" stroke-width="2"/>
<path d="M747.5,37.7 L743.7,50.2 L751.3,50.2Z" fill="#1e1e1e"/>
<line x1="811.6" y1="49.2" x2="811.6" y2="110" stroke="#1e1e1e" stroke-width="2"/>
<path d="M811.6,37.7 L807.8000000000001,50.2 L815.4,50.2Z" fill="#1e1e1e"/>
<line x1="861.2" y1="49.2" x2="861.2" y2="133.3" stroke="#1e1e1e" stroke-width="2"/>
<path d="M861.2,37.7 L857.4000000000001,50.2 L865.0,50.2Z" fill="#1e1e1e"/>
<line x1="88.3" y1="207.6" x2="88.3" y2="274.0" stroke="#1e1e1e" stroke-width="2"/>
<path d="M88.3,285.5 L84.5,273.0 L92.1,273.0Z" fill="#1e1e1e"/>
<line x1="535.7" y1="225.5" x2="535.7" y2="273.0" stroke="#1e1e1e" stroke-width="2"/>
<path d="M535.7,284.5 L531.9000000000001,272.0 L539.5,272.0Z" fill="#1e1e1e"/>
<line x1="593.5" y1="224" x2="593.5" y2="273.0" stroke="#1e1e1e" stroke-width="2"/>
<path d="M593.5,284.5 L589.7,272.0 L597.3,272.0Z" fill="#1e1e1e"/>
<line x1="635.1" y1="223.5" x2="635.1" y2="273.0" stroke="#1e1e1e" stroke-width="2"/>
<path d="M635.1,284.5 L631.3000000000001,272.0 L638.9,272.0Z" fill="#1e1e1e"/>
<line x1="680.7" y1="223.5" x2="680.7" y2="273.0" stroke="#1e1e1e" stroke-width="2"/>
<path d="M680.7,284.5 L676.9000000000001,272.0 L684.5,272.0Z" fill="#1e1e1e"/>
<line x1="721.7" y1="223" x2="721.7" y2="273.0" stroke="#1e1e1e" stroke-width="2"/>
<path d="M721.7,284.5 L717.9000000000001,272.0 L725.5,272.0Z" fill="#1e1e1e"/>
<line x1="756.9" y1="223" x2="756.9" y2="273.0" stroke="#1e1e1e" stroke-width="2"/>
<path d="M756.9,284.5 L753.1,272.0 L760.6999999999999,272.0Z" fill="#1e1e1e"/>
<line x1="811.1" y1="222.3" x2="811.1" y2="273.0" stroke="#1e1e1e" stroke-width="2"/>
<path d="M811.1,284.5 L807.3000000000001,272.0 L814.9,272.0Z" fill="#1e1e1e"/>
<line x1="861.4" y1="227.2" x2="861.4" y2="273.0" stroke="#1e1e1e" stroke-width="2"/>
<path d="M861.4,284.5 L857.6,272.0 L865.1999999999999,272.0Z" fill="#1e1e1e"/>
<path d="M79.15,16.90 L79.15,31.60 L77.05,31.60 L77.05,19.84 L73.96,21.31 L73.38,19.25 L77.47,16.90Z" fill="#231f20"/>
<text x="632.85" y="31.6" font-size="21.3" fill="#231f20" stroke="#231f20" stroke-width="0.35" text-anchor="middle">2</text>
<text x="747.9" y="31.6" font-size="21.3" fill="#231f20" stroke="#231f20" stroke-width="0.35" text-anchor="middle">3</text>
<text x="811.25" y="31.6" font-size="21.3" fill="#231f20" stroke="#231f20" stroke-width="0.35" text-anchor="middle">4</text>
<text x="860.75" y="31.6" font-size="21.3" fill="#231f20" stroke="#231f20" stroke-width="0.35" text-anchor="middle">5</text>
<path d="M82.95,288.50 L82.95,303.30 L80.65,303.30 L80.65,291.46 L77.54,292.94 L76.95,290.87 L81.11,288.50Z" fill="#231f20"/>
<text x="93.15" y="303.3" font-size="21.3" fill="#231f20" stroke="#231f20" stroke-width="0.35" text-anchor="middle">2</text>
<path d="M530.95,288.40 L530.95,303.20 L528.65,303.20 L528.65,291.36 L525.54,292.84 L524.95,290.77 L529.11,288.40Z" fill="#231f20"/>
<path d="M542.05,288.40 L542.05,303.20 L539.75,303.20 L539.75,291.36 L536.64,292.84 L536.05,290.77 L540.21,288.40Z" fill="#231f20"/>
<path d="M588.15,288.40 L588.15,303.20 L585.85,303.20 L585.85,291.36 L582.74,292.84 L582.15,290.77 L586.31,288.40Z" fill="#231f20"/>
<text x="598.1" y="303.3" font-size="21.3" fill="#231f20" stroke="#231f20" stroke-width="0.35" text-anchor="middle">0</text>
<text x="635.1" y="303.3" font-size="21.3" fill="#231f20" stroke="#231f20" stroke-width="0.35" text-anchor="middle">9</text>
<text x="680.9" y="303.3" font-size="21.3" fill="#231f20" stroke="#231f20" stroke-width="0.35" text-anchor="middle">9</text>
<text x="721.3" y="303.3" font-size="21.3" fill="#231f20" stroke="#231f20" stroke-width="0.35" text-anchor="middle">8</text>
<text x="756.7" y="303.3" font-size="21.3" fill="#231f20" stroke="#231f20" stroke-width="0.35" text-anchor="middle">8</text>
<text x="811.0" y="303.3" font-size="21.3" fill="#231f20" stroke="#231f20" stroke-width="0.35" text-anchor="middle">7</text>
<text x="861.4" y="303.3" font-size="21.3" fill="#231f20" stroke="#231f20" stroke-width="0.35" text-anchor="middle">6</text>
<path d="M118.75,346.80 L118.75,365.80 L116.05,365.80 L116.05,350.60 L112.06,352.50 L111.30,349.84 L116.59,346.80Z" fill="#231f20"/>
<path d="M102.05,578.30 L102.05,597.50 L99.35,597.50 L99.35,582.14 L95.32,584.06 L94.55,581.37 L99.89,578.30Z" fill="#231f20"/>
<path d="M117.45,578.30 L117.45,597.50 L114.75,597.50 L114.75,582.14 L110.72,584.06 L109.95,581.37 L115.29,578.30Z" fill="#231f20"/>
<path d="M526.95,536.50 L526.95,555.00 L524.25,555.00 L524.25,540.20 L520.37,542.05 L519.62,539.46 L524.79,536.50Z" fill="#231f20"/>
<path d="M526.95,578.20 L526.95,597.20 L524.25,597.20 L524.25,582.00 L520.26,583.90 L519.50,581.24 L524.79,578.20Z" fill="#231f20"/>
<text x="116.25" y="414.8" font-size="27" fill="#231f20" stroke="#231f20" stroke-width="0.5" text-anchor="middle">3</text>
<text x="115.95" y="463.2" font-size="27" fill="#231f20" stroke="#231f20" stroke-width="0.5" text-anchor="middle">5</text>
<text x="116.2" y="512.6" font-size="27" fill="#231f20" stroke="#231f20" stroke-width="0.5" text-anchor="middle">7</text>
<text x="116.2" y="555.1" font-size="27" fill="#231f20" stroke="#231f20" stroke-width="0.5" text-anchor="middle">9</text>
<text x="539.35" y="365.2" font-size="27" fill="#231f20" stroke="#231f20" stroke-width="0.5" text-anchor="middle">2</text>
<text x="539.0" y="414.0" font-size="27" fill="#231f20" stroke="#231f20" stroke-width="0.5" text-anchor="middle">4</text>
<text x="539.3" y="462.2" font-size="27" fill="#231f20" stroke="#231f20" stroke-width="0.5" text-anchor="middle">6</text>
<text x="539.3" y="510.4" font-size="27" fill="#231f20" stroke="#231f20" stroke-width="0.5" text-anchor="middle">8</text>
<text x="538.45" y="554.9" font-size="27" fill="#231f20" stroke="#231f20" stroke-width="0.5" text-anchor="middle">0</text>
<text x="538.5" y="597.1" font-size="27" fill="#231f20" stroke="#231f20" stroke-width="0.5" text-anchor="middle">2</text>
<text x="136.0" y="365.8" font-size="27" fill="#231f20" stroke="#231f20" stroke-width="0.5" textLength="165.3" lengthAdjust="spacingAndGlyphs">Power Switch</text>
<text x="136.0" y="414.8" font-size="27" fill="#231f20" stroke="#231f20" stroke-width="0.5" textLength="141.3" lengthAdjust="spacingAndGlyphs">RS-485 Port</text>
<text x="136.8" y="463.2" font-size="27" fill="#231f20" stroke="#231f20" stroke-width="0.5" textLength="339.8" lengthAdjust="spacingAndGlyphs">AUDIO OUT, RCA Connector</text>
<text x="136.8" y="512.6" font-size="27" fill="#231f20" stroke="#231f20" stroke-width="0.5" textLength="109.2" lengthAdjust="spacingAndGlyphs">VGA Port</text>
<text x="136.0" y="555.1" font-size="27" fill="#231f20" stroke="#231f20" stroke-width="0.5" textLength="125.1" lengthAdjust="spacingAndGlyphs">HDMI Port</text>
<text x="135.4" y="597.4" font-size="27" fill="#231f20" stroke="#231f20" stroke-width="0.5" textLength="171.6" lengthAdjust="spacingAndGlyphs">Network Ports</text>
<text x="559.7" y="365.2" font-size="27" fill="#231f20" stroke="#231f20" stroke-width="0.5" textLength="156.9" lengthAdjust="spacingAndGlyphs">Alarm In/Out</text>
<text x="558.2" y="414.0" font-size="27" fill="#231f20" stroke="#231f20" stroke-width="0.5" textLength="141.7" lengthAdjust="spacingAndGlyphs">RS-232 Port</text>
<text x="560.0" y="462.2" font-size="27" fill="#231f20" stroke="#231f20" stroke-width="0.5" textLength="312.5" lengthAdjust="spacingAndGlyphs">AUDIO IN, RCA Connector</text>
<text x="559.4" y="510.4" font-size="27" fill="#231f20" stroke="#231f20" stroke-width="0.5" textLength="147.4" lengthAdjust="spacingAndGlyphs">USB 3.0 Port</text>
<text x="558.4" y="554.7" font-size="27" fill="#231f20" stroke="#231f20" stroke-width="0.5" textLength="136.9" lengthAdjust="spacingAndGlyphs">eSATA Port</text>
<text x="557.4" y="597.1" font-size="27" fill="#231f20" stroke="#231f20" stroke-width="0.5" textLength="150.8" lengthAdjust="spacingAndGlyphs">Power Input</text>
</svg></body></html>
